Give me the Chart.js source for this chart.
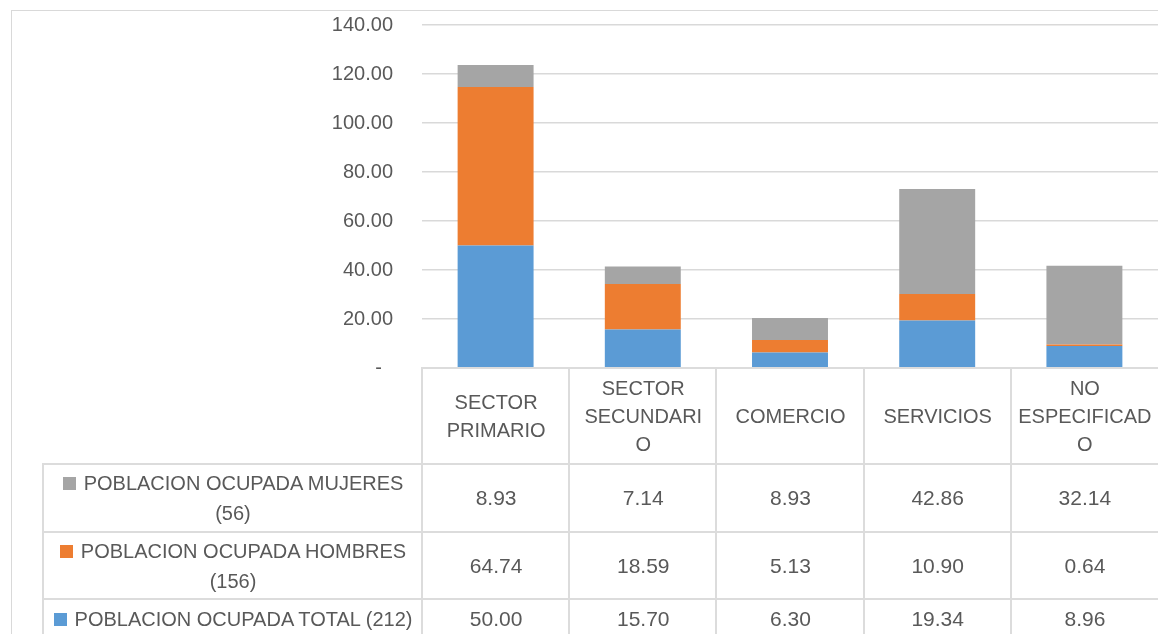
<!DOCTYPE html>
<html lang="es">
<head>
    <meta charset="UTF-8">
    <title>Poblacion ocupada por sector</title>
    <script src="https://cdn.jsdelivr.net/npm/chart.js"></script>
    <style>
        body { margin: 0; background: #fff; }
        #wrap { position: relative; width: 1158px; height: 634px; overflow: hidden; background: #fff;
                font-family: 'Liberation Sans', Arial, sans-serif; color: #595959; }
        #frame { position: absolute; left: 11px; top: 10px; width: 1300px; height: 800px;
                 border: 1px solid #D9D9D9; box-sizing: border-box; }
        #myChart { position: absolute; left: 0; top: 0; }
        .cell { position: absolute; box-sizing: border-box; border-left: 2px solid #DCDCDC; border-top: 2px solid #DCDCDC;
                display: flex; align-items: center; justify-content: center; text-align: center; }
        .head { font-size: 20px; line-height: 28px; }
        .val { font-size: 21px; }
        .leg { font-size: 20px; line-height: 30px; padding: 0 4px; }
        .key { display: inline-block; width: 13px; height: 13px; margin-right: 8px; }
    </style>
</head>
<body>
<div id="wrap">
    <div id="frame"></div>
    <canvas id="myChart" width="1158" height="634"></canvas>
    <div id="table"></div>
</div>

<script>
    // categories (split the way the spreadsheet wraps them)
    const categories = [['SECTOR', 'PRIMARIO'], ['SECTOR', 'SECUNDARI', 'O'], ['COMERCIO'], ['SERVICIOS'], ['NO', 'ESPECIFICAD', 'O']];

    const mujeres = [8.93, 7.14, 8.93, 42.86, 32.14];
    const hombres = [64.74, 18.59, 5.13, 10.90, 0.64];
    const total = [50.00, 15.70, 6.30, 19.34, 8.96];

    const nameMujeres = 'POBLACION OCUPADA MUJERES (56)';
    const nameHombres = 'POBLACION OCUPADA HOMBRES (156)';
    const nameTotal = 'POBLACION OCUPADA TOTAL (212)';

    const yMin = 0, yMax = 140, yStep = 20;

    const BLUE = '#5B9BD5', ORANGE = '#ED7D31', GRAY = '#A5A5A5';
    const TEXT = '#595959';
    const FONT = "'Liberation Sans', Arial, sans-serif";

    const chart = new Chart(document.getElementById('myChart').getContext('2d'), {
        type: 'bar',
        data: {
            labels: categories,
            datasets: [
                { label: nameTotal, data: total, backgroundColor: BLUE },
                { label: nameHombres, data: hombres, backgroundColor: ORANGE },
                { label: nameMujeres, data: mujeres, backgroundColor: GRAY }
            ]
        },
        options: {
            responsive: false,
            animation: false,
            layout: { padding: { left: 0, right: 0, top: 25, bottom: 266 } },
            datasets: { bar: { categoryPercentage: 0.516, barPercentage: 1 } },
            plugins: { legend: { display: false }, tooltip: { enabled: false } },
            scales: {
                x: { stacked: true, display: false },
                y: {
                    stacked: true,
                    min: yMin,
                    max: yMax,
                    border: { display: false },
                    // invisible tick marks make the gap between labels and plot
                    grid: { color: '#D9D9D9', lineWidth: 1.5, drawTicks: true, tickLength: 29, tickColor: 'rgba(0,0,0,0)' },
                    ticks: {
                        stepSize: yStep,
                        padding: 0,
                        color: TEXT,
                        font: { family: FONT, size: 20 },
                        callback: v => v === 0 ? '-  ' : v.toFixed(2)
                    },
                    afterFit: scale => { scale.width = 422; }
                }
            }
        }
    });

    // data table under the plot, lined up with the x scale
    const tableEl = document.getElementById('table');
    const area = chart.chartArea;
    const xs = chart.scales.x;
    const colW = (area.right - area.left) / categories.length;

    function cell(cls, left, y, width, height, html) {
        const d = document.createElement('div');
        d.className = 'cell ' + cls;
        d.style.left = left + 'px';
        d.style.top = y + 'px';
        d.style.width = width + 'px';
        d.style.height = height + 'px';
        d.innerHTML = html;
        tableEl.appendChild(d);
    }

    const headTop = area.bottom - 1;
    const headH = 96;
    categories.forEach((c, i) => {
        cell('head', xs.getPixelForValue(i) - colW / 2 - 1, headTop, colW + 1, headH, '<div>' + c.join('<br>') + '</div>');
    });

    const rows = [
        { name: nameMujeres, color: GRAY, values: mujeres, h: 68 },
        { name: nameHombres, color: ORANGE, values: hombres, h: 67 },
        { name: nameTotal, color: BLUE, values: total, h: 40 }
    ];
    let rowTop = headTop + headH;
    rows.forEach(r => {
        cell('leg', 42, rowTop, area.left - 42, r.h,
            '<div><span class="key" style="background:' + r.color + '"></span>' + r.name + '</div>');
        r.values.forEach((v, i) => {
            cell('val', xs.getPixelForValue(i) - colW / 2 - 1, rowTop, colW + 1, r.h, v.toFixed(2));
        });
        rowTop += r.h;
    });
</script>
</body>
</html>
